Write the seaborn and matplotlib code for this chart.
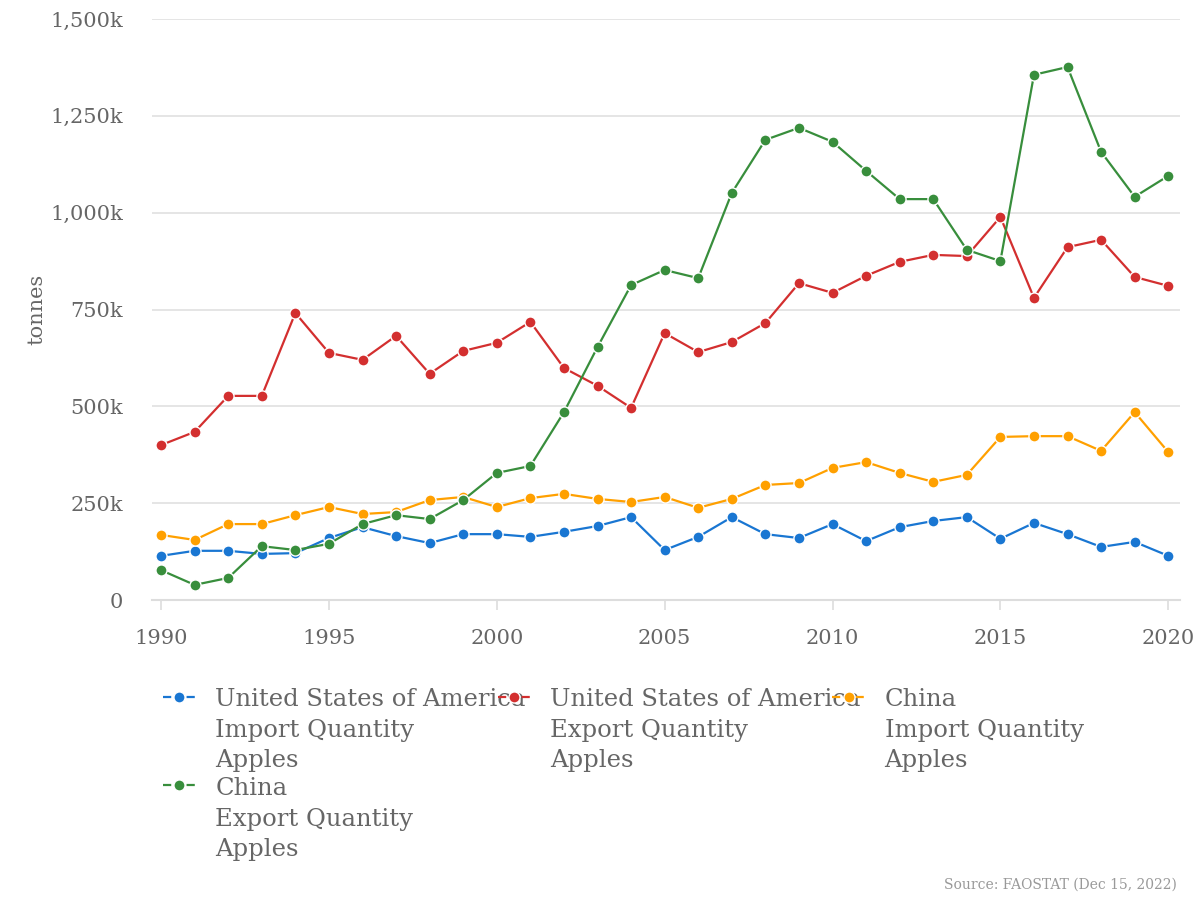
import matplotlib
matplotlib.use("Agg")
import matplotlib.pyplot as plt
from matplotlib.lines import Line2D
from matplotlib.ticker import FuncFormatter, MultipleLocator
import seaborn as sns
import pandas as pd

years = list(range(1990, 2021))
usa_import = [114, 127, 127, 119, 121, 160, 188, 165, 147, 170, 170, 163, 176, 191, 214,
              129, 163, 214, 170, 160, 196, 152, 188, 204, 214, 158, 199, 170, 137, 150, 114]
usa_export = [400, 434, 527, 527, 741, 638, 620, 682, 584, 643, 664, 718, 599, 553, 496,
              689, 640, 666, 715, 818, 793, 837, 873, 891, 888, 989, 780, 911, 930, 834, 811]
china_import = [168, 155, 196, 196, 219, 240, 222, 227, 258, 266, 240, 263, 274, 261, 253,
                266, 238, 261, 297, 302, 341, 356, 328, 305, 323, 421, 423, 423, 385, 485, 382]
china_export = [77, 39, 57, 139, 129, 145, 196, 219, 209, 258, 328, 346, 485, 653, 813,
                852, 831, 1051, 1188, 1219, 1183, 1108, 1035, 1035, 904, 875, 1356, 1376, 1157, 1041, 1095]

labels = [
    "United States of America\nImport Quantity\nApples",
    "United States of America\nExport Quantity\nApples",
    "China\nImport Quantity\nApples",
    "China\nExport Quantity\nApples",
]
values = [usa_import, usa_export, china_import, china_export]
colors = ["#1976D2", "#D32F2F", "#FFA000", "#388E3C"]
legend_order = [0, 3, 1, 2]
source = "Source: FAOSTAT (Dec 15, 2022)"

frames = []
for lab, vals in zip(labels, values):
    frames.append(pd.DataFrame({"year": years, "value": [v * 1000 for v in vals], "series": lab}))
df = pd.concat(frames, ignore_index=True)

sns.set_style("white")
plt.rcParams["font.family"] = ["DejaVu Serif"]

fig = plt.figure(figsize=(12, 9), dpi=100)
ax = fig.add_axes([152 / 1200, 1 - 600 / 900, (1180 - 152) / 1200, (600 - 19) / 900])

sns.lineplot(data=df, x="year", y="value", hue="series", hue_order=labels,
             palette=colors, marker="o", markersize=8, markeredgecolor="white",
             markeredgewidth=1, linewidth=1.6, ax=ax, legend=False)

ax.set_xlim(1989.73, 2020.35)
ax.set_ylim(0, 1500000)
ax.xaxis.set_major_locator(MultipleLocator(5))
ax.yaxis.set_major_locator(MultipleLocator(250000))
ax.yaxis.set_major_formatter(FuncFormatter(lambda v, p: "0" if v == 0 else f"{int(round(v / 1000)):,}k"))
ax.xaxis.set_major_formatter(FuncFormatter(lambda v, p: f"{int(v)}"))

ax.grid(axis="y", color="#e0e0e0", linewidth=1.2)
ax.grid(axis="x", visible=False)
for s in ["top", "right", "left"]:
    ax.spines[s].set_visible(False)
ax.spines["bottom"].set_color("#dddddd")
ax.spines["bottom"].set_linewidth(1.5)
ax.tick_params(axis="y", length=0, pad=21, labelsize=15, labelcolor="#666666")
ax.tick_params(axis="x", length=7, width=1.2, color="#dddddd", pad=14, labelsize=15,
               labelcolor="#666666", bottom=True)
ax.set_xlabel("")
ax.set_ylabel("tonnes", fontsize=15, color="#666666")
ax.yaxis.set_label_coords(-0.103, 0.5)

handles = []
hl = []
for i in legend_order:
    handles.append(Line2D([0], [0], color=colors[i], linestyle="--", linewidth=1.6,
                          marker="o", markersize=8, markeredgecolor="white", markeredgewidth=1))
    hl.append(labels[i])
leg = ax.legend(handles, hl, ncol=3, loc="upper left",
                bbox_to_anchor=(163 / 1200, 1 - 688 / 900), bbox_transform=fig.transFigure,
                frameon=False, fontsize=17.5, handlelength=1.35, handletextpad=0.8,
                columnspacing=-1.15, labelspacing=0.2, borderpad=0, borderaxespad=0,
                labelcolor="#666666")
for t in leg.get_texts():
    t.set_linespacing(1.42)
try:
    for col in leg._legend_handle_box.get_children():
        for row in col.get_children():
            row.align = "top"
except Exception:
    pass

fig.text(1177 / 1200, 1 - 885 / 900, source, ha="right", va="center", fontsize=10, color="#999999")

fig.savefig("out.png", dpi=100)
